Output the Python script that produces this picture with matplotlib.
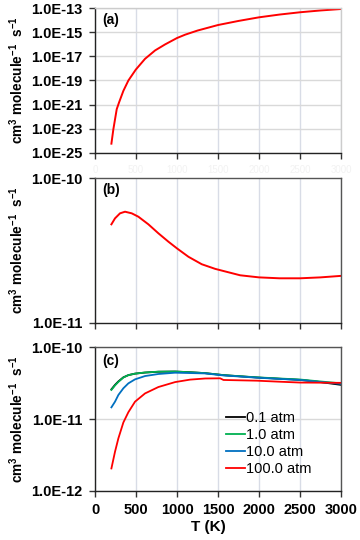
import numpy as np
import matplotlib
matplotlib.use("Agg")
import matplotlib.pyplot as plt
from matplotlib.ticker import FixedLocator, FuncFormatter, NullLocator

plt.rcParams['font.family'] = ['Liberation Sans', 'DejaVu Sans']
plt.rcParams['mathtext.fontset'] = 'custom'
plt.rcParams['mathtext.rm'] = 'Liberation Sans'
plt.rcParams['mathtext.bf'] = 'Liberation Sans:bold'

# ---- data ----
T_a = [200, 224, 265, 293, 346, 407, 497, 610, 733, 855, 1000, 1100, 1250, 1500, 1750, 2000,
       2250, 2500, 2750, 3000]
logk_a = [-24.25, -23.05, -21.38, -20.83, -19.86, -19.0, -18.1, -17.2, -16.5, -16.0, -15.47,
          -15.19, -14.85, -14.39, -14.05, -13.75, -13.52, -13.33, -13.18, -13.06]

T_b = [200, 244, 305, 366, 448, 529, 651, 773, 895, 1000, 1140, 1302, 1465, 1567, 1770, 2000,
       2250, 2500, 2750, 3000]
k_b = [4.80e-11, 5.28e-11, 5.72e-11, 5.87e-11, 5.72e-11, 5.42e-11, 4.80e-11, 4.16e-11, 3.64e-11,
       3.27e-11, 2.86e-11, 2.54e-11, 2.36e-11, 2.28e-11, 2.13e-11, 2.06e-11, 2.03e-11, 2.03e-11,
       2.06e-11, 2.11e-11]

T_c = [200, 244, 285, 346, 407, 488, 610, 773, 977, 1160, 1343, 1526, 1567, 1974, 2250, 2503,
       2706, 3000]
k_01 = [2.60e-11, 3.0e-11, 3.35e-11, 3.82e-11, 4.1e-11, 4.3e-11, 4.45e-11, 4.57e-11, 4.6e-11,
        4.5e-11, 4.37e-11, 4.15e-11, 4.1e-11, 3.8e-11, 3.65e-11, 3.52e-11, 3.33e-11, 3.0e-11]
k_1 = [2.55e-11, 2.95e-11, 3.3e-11, 3.8e-11, 4.1e-11, 4.3e-11, 4.46e-11, 4.58e-11, 4.6e-11,
       4.5e-11, 4.37e-11, 4.15e-11, 4.1e-11, 3.82e-11, 3.68e-11, 3.56e-11, 3.38e-11, 3.15e-11]
k_10 = [1.46e-11, 1.75e-11, 2.17e-11, 2.69e-11, 3.15e-11, 3.58e-11, 3.98e-11, 4.25e-11, 4.43e-11,
        4.38e-11, 4.33e-11, 4.11e-11, 4.06e-11, 3.78e-11, 3.63e-11, 3.51e-11, 3.32e-11, 3.1e-11]
k_100 = [2.06e-12, 3.52e-12, 5.40e-12, 9.0e-12, 1.25e-11, 1.75e-11, 2.28e-11, 2.8e-11, 3.28e-11,
         3.55e-11, 3.68e-11, 3.70e-11, 3.51e-11, 3.43e-11, 3.32e-11, 3.23e-11, 3.22e-11, 3.2e-11]
labels_c = ['0.1 atm', '1.0 atm', '10.0 atm', '100.0 atm']
colors_c = ['#000000', '#00b050', '#0070c0', '#ff0000']

xticks = [0, 500, 1000, 1500, 2000, 2500, 3000]
yticks_a = [1e-25, 1e-23, 1e-21, 1e-19, 1e-17, 1e-15, 1e-13]
yticks_b = [1e-11, 1e-10]
yticks_c = [1e-12, 1e-11, 1e-10]
panel_labels = ['(a)', '(b)', '(c)']

# ---- figure ----
fig = plt.figure(figsize=(3.6, 5.4), dpi=100)
L, R = 95/360, 341/360
boxes = [(8.3, 152.7), (178.3, 322.7), (347.3, 491.0)]
axes = []
for top, bot in boxes:
    ax = fig.add_axes([L, 1 - bot/540, R - L, (bot - top)/540])
    axes.append(ax)

def efmt(v, pos):
    e = int(round(np.log10(v)))
    return "1.0E%03d" % e

ylabel = r'cm$^{\mathbf{3}}$ molecule$^{\mathbf{-1}}$  s$^{\mathbf{-1}}$'
ylims = [(1e-25, 1e-13), (1e-11, 1e-10), (1e-12, 1e-10)]
yticks_all = [yticks_a, yticks_b, yticks_c]
grid_col = '#d9d9d9'

for i, ax in enumerate(axes):
    ax.set_yscale('log')
    ax.set_xlim(0, 3000)
    ax.set_ylim(*ylims[i])
    ax.xaxis.set_major_locator(FixedLocator(xticks))
    ax.yaxis.set_major_locator(FixedLocator(yticks_all[i]))
    ax.yaxis.set_minor_locator(NullLocator())
    ax.yaxis.set_major_formatter(FuncFormatter(efmt))
    ax.tick_params(axis='both', direction='out', length=4, width=1, pad=5,
                   labelsize=10.5, color='#333333')
    for lab in ax.get_yticklabels():
        lab.set_fontweight('bold')
    ax.set_axisbelow(True)
    ax.grid(True, axis='x', color='#d8dce6', lw=1)
    if i != 1:
        ax.grid(True, axis='y', color=grid_col, lw=1)
    for s in ['left', 'bottom']:
        ax.spines[s].set_color('#222222')
        ax.spines[s].set_linewidth(1)
    for s in ['top', 'right']:
        ax.spines[s].set_color('#cccccc' if i == 0 else '#555555')
        ax.spines[s].set_linewidth(1)
    ax.text(0.03, 0.965 if i < 2 else 0.955, panel_labels[i], transform=ax.transAxes,
            ha='left', va='top', fontsize=10, fontweight='bold')
    top, bot = boxes[i]
    fig.text(17/360, 1 - (top + bot)/2/540, ylabel, rotation=90, ha='center', va='center',
             fontsize=9.8, fontweight='bold')

# panel (a)
axes[0].plot(T_a, [10**v for v in logk_a], color='#ff0000', lw=1.4)
axes[0].set_xticklabels([str(t) for t in xticks])
for lab in axes[0].get_xticklabels():
    lab.set_color('#f2f2f2')
    lab.set_fontsize(7)

# panel (b)
axes[1].plot(T_b, k_b, color='#ff0000', lw=1.4)
axes[1].set_xticklabels([])

# panel (c)
series = [k_01, k_1, k_10, k_100]
for k, lab, c in zip(series, labels_c, colors_c):
    axes[2].plot(T_c, k, color=c, lw=1.3, label=lab)
axes[2].set_xticklabels([str(t) for t in xticks])
for lab in axes[2].get_xticklabels():
    lab.set_fontweight('bold')
axes[2].set_xlabel('T (K)', fontsize=11, fontweight='bold', labelpad=2)
axes[2].xaxis.set_label_coords(0.46, -0.2)
leg = axes[2].legend(loc='upper left', bbox_to_anchor=(226/360, 1 - 411/540),
                     bbox_transform=fig.transFigure, frameon=False, fontsize=10.5,
                     handlelength=1.3, handletextpad=0.05, labelspacing=0.2,
                     borderpad=0, borderaxespad=0)

fig.savefig('out.png', dpi=100)
